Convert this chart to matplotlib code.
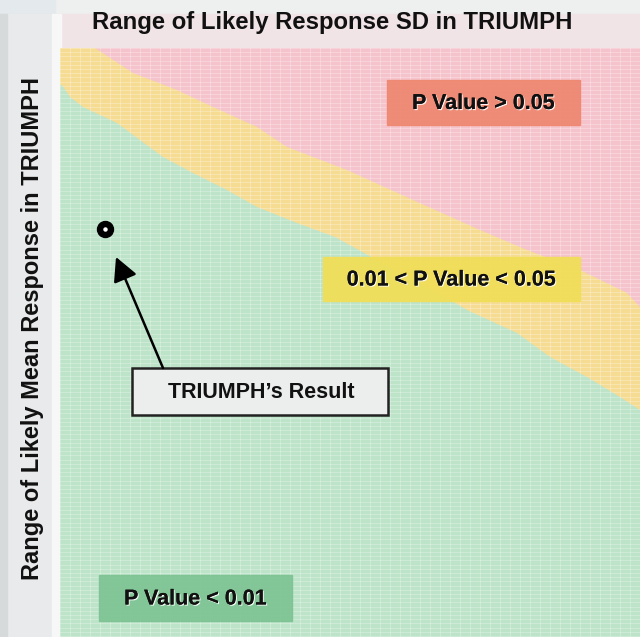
import numpy as np
import matplotlib
matplotlib.use("Agg")
import matplotlib.pyplot as plt
from matplotlib.patches import Rectangle
import matplotlib.patheffects as pe

plt.rcParams['font.family'] = ['Liberation Sans', 'DejaVu Sans']

# ---- data (heat-map units: SD across, mean response down) ----
title = "Range of Likely Response SD in TRIUMPH"
ylabel = "Range of Likely Mean Response in TRIUMPH"

# boundary between 0.01<p<0.05 (yellow) and p>0.05 (red)
red_y = [0, 25, 42, 59, 79, 99, 122, 152, 182, 202, 222, 245, 259]
red_x = [35, 73, 117, 153, 197, 227, 287, 353, 420, 467, 520, 567, 580]
# boundary between p<0.01 (green) and 0.01<p<0.05 (yellow)
green_y = [37, 49, 59, 75, 92, 109, 125, 142, 159, 175, 189, 252, 262, 285, 309, 329, 349, 362]
green_x = [2, 10, 23, 57, 80, 103, 133, 167, 197, 237, 275, 390, 407, 457, 490, 527, 560, 580]
x_max, y_max = 580, 589

triumph_sd, triumph_mean = 44.7, 181.3

labels = ["P Value > 0.05", "0.01 < P Value < 0.05", "P Value < 0.01"]

# ---- figure ----
fig = plt.figure(figsize=(6.4, 6.37), dpi=100)
fig.patch.set_facecolor('#eceeee')
bg = fig.add_axes([0, 0, 1, 1])
bg.set_xlim(0, 640)
bg.set_ylim(637, 0)
bg.axis('off')

# header band and left strip
bg.add_patch(Rectangle((0, 0), 640, 14, color='#eeefef', zorder=0))
bg.add_patch(Rectangle((55, 14), 585, 34, color='#f1e4e7', zorder=0))
bg.add_patch(Rectangle((0, 0), 55, 14, color='#e3e9ec', zorder=0))
bg.add_patch(Rectangle((0, 14), 55, 623, color='#e8eaeb', zorder=0))
bg.add_patch(Rectangle((0, 14), 7, 623, color='#d7dadb', zorder=0))
bg.add_patch(Rectangle((52, 14), 9, 623, color='#f7f7f7', zorder=0))

# heat map axes
hm = fig.add_axes([60 / 640, 0, 580 / 640, 589 / 637])
hm.set_xlim(0, x_max)
hm.set_ylim(y_max, 0)
hm.set_facecolor('#f5c3cb')
for s in hm.spines.values():
    s.set_visible(False)

yel_poly_x = [0] + red_x + [x_max, 0]
yel_poly_y = [0] + red_y + [y_max, y_max]
hm.fill(yel_poly_x, yel_poly_y, color='#f6dc93', lw=0, zorder=1)
grn_poly_x = [0] + green_x + [x_max, 0]
grn_poly_y = [green_y[0]] + green_y + [y_max, y_max]
hm.fill(grn_poly_x, grn_poly_y, color='#bde3c9', lw=0, zorder=2)

hm.set_xticks(np.arange(0, x_max + 1, 10))
hm.set_yticks(np.arange(0, y_max + 1, 4.2))
hm.tick_params(length=0, labelleft=False, labelbottom=False)
hm.grid(True, color='white', alpha=0.3, lw=0.6, zorder=3)
hm.set_axisbelow(False)

# TRIUMPH result point
hm.plot([triumph_sd], [triumph_mean], 'o', ms=11.5, color='black', zorder=10)
hm.plot([triumph_sd], [triumph_mean], 'o', ms=2.2, color='white', zorder=11)

# overlay axes for texts and annotation boxes
ov = fig.add_axes([0, 0, 1, 1])
ov.set_xlim(0, 640)
ov.set_ylim(637, 0)
ov.axis('off')
ov.patch.set_alpha(0)

ov.text(332, 22, title, ha='center', va='center', fontsize=17.2, fontweight='bold', color='#111111')
ov.text(33, 329, ylabel, ha='center', va='center', rotation=90, fontsize=17,
        fontweight='bold', color='#111111')

shadow = [pe.withSimplePatchShadow(offset=(0.8, -0.8), shadow_rgbFace='white', alpha=0.9), pe.Normal()]

box_specs = [((387, 80), 193, 45, '#ee8872'),
             ((323, 257), 257, 44, '#f0de58'),
             ((99, 575), 193, 46, '#7fc494')]
for (xy, w, h, c), lab in zip(box_specs, labels):
    ov.add_patch(Rectangle(xy, w, h, color=c, zorder=5, alpha=0.95))
    ov.text(xy[0] + w / 2, xy[1] + h / 2 + 1, lab, ha='center', va='center', fontsize=15.5,
            fontweight='bold', color='#111111', zorder=6, path_effects=shadow)

ov.add_patch(Rectangle((132, 368), 256, 47, facecolor='#eceeed', edgecolor='#222222', lw=1.8, zorder=5))
ov.text(261, 392, "TRIUMPH\u2019s Result", ha='center', va='center', fontsize=15.5,
        fontweight='bold', color='#111111', zorder=6)
ov.annotate('', xy=(116, 257), xytext=(163, 368),
            arrowprops=dict(arrowstyle='-|>,head_length=1.45,head_width=0.75', lw=1.8,
                            color='black', shrinkA=0, shrinkB=0), zorder=7)

fig.savefig('out.png', dpi=100)
